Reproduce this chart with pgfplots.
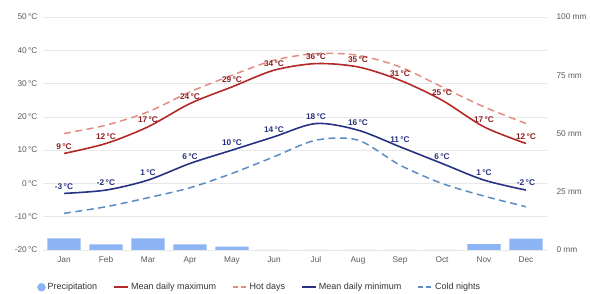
\documentclass[border=0pt]{standalone}
\usepackage{pgfplots}
\pgfplotsset{compat=1.18}
\usepackage{fontspec}
\setmainfont{Liberation Sans}
\definecolor{maxred}{RGB}{180,40,40}
\definecolor{hotred}{RGB}{226,140,130}
\definecolor{minblue}{RGB}{40,50,130}
\definecolor{coldblue}{RGB}{90,140,195}
\definecolor{precip}{RGB}{140,180,245}
\definecolor{gridgray}{RGB}{232,232,232}
\definecolor{ticklab}{RGB}{90,90,90}
\pgfplotsset{/pgf/number format/assume math mode=true}
\begin{document}
\begin{tikzpicture}
\useasboundingbox (0,0) rectangle (590pt,294pt);
\begin{axis}[
  at={(43pt,44pt)}, anchor=south west,
  scale only axis, width=504pt, height=233pt,
  xmin=-0.5, xmax=11.5, ymin=-20, ymax=50,
  xtick={0,...,11},
  xticklabels={Jan,Feb,Mar,Apr,May,Jun,Jul,Aug,Sep,Oct,Nov,Dec},
  ytick={-20,-10,...,50},
  yticklabel={\pgfmathprintnumber{\tick}\,°C},
  ymajorgrids, grid style={gridgray, line width=0.6pt},
  axis line style={draw=none},
  major tick length=0pt,
  tick label style={font=\fontsize{8.3}{10}\selectfont, color=ticklab},
  xticklabel style={yshift=-3pt},
  yticklabel style={xshift=-2pt},
  legend columns=5,
  legend style={at={(0.43,-0.16)}, anchor=center, draw=none, fill=none,
    font=\fontsize{9}{11}\selectfont, text=black!80,
    /tikz/every even column/.append style={column sep=14pt}},
  legend image code/.code={\draw[#1] (0pt,0pt) -- (14pt,0pt);},
  legend cell align=left,
]
\addlegendimage{only marks, mark=*, mark size=4pt, color=precip,
  legend image code/.code={\fill[precip] (7pt,0pt) circle (4pt);}}
\addlegendentry{Precipitation}
\addplot[smooth, color=hotred, line width=1.5pt, dash pattern=on 7pt off 4.5pt, forget plot] coordinates {
(0,15) (1,17.5) (2,21.5) (3,27.5) (4,32.5) (5,37) (6,39) (7,38.5) (8,35) (9,29) (10,23) (11,18)};
\addplot[smooth, color=coldblue, line width=1.5pt, dash pattern=on 7pt off 4.5pt, forget plot] coordinates {
(0,-9) (1,-7) (2,-4.3) (3,-1.3) (4,3) (5,8) (6,13) (7,13) (8,5.5) (9,0) (10,-3.8) (11,-7)};
\addplot[smooth, color=maxred, line width=1.6pt, forget plot,
  nodes near coords={\pgfmathprintnumber{\pgfplotspointmeta}\,°C},
  nodes near coords style={font=\bfseries\fontsize{8.3}{10}\selectfont, color=maxred!80!black, anchor=south, yshift=0pt}]
coordinates {
(0,9) (1,12) (2,17) (3,24) (4,29) (5,34) (6,36) (7,35) (8,31) (9,25) (10,17) (11,12)};
\addplot[smooth, color=minblue, line width=1.6pt, forget plot,
  nodes near coords={\pgfmathprintnumber{\pgfplotspointmeta}\,°C},
  nodes near coords style={font=\bfseries\fontsize{8.3}{10}\selectfont, color=minblue, anchor=south, yshift=0pt}]
coordinates {
(0,-3) (1,-2) (2,1) (3,6) (4,10) (5,14) (6,18) (7,16) (8,11) (9,6) (10,1) (11,-2)};
\addlegendimage{color=maxred, line width=1.8pt}
\addlegendentry{Mean daily maximum}
\addlegendimage{color=hotred, line width=1.6pt, dash pattern=on 5pt off 3pt}
\addlegendentry{Hot days}
\addlegendimage{color=minblue, line width=1.8pt}
\addlegendentry{Mean daily minimum}
\addlegendimage{color=coldblue, line width=1.6pt, dash pattern=on 5pt off 3pt}
\addlegendentry{Cold nights}
\end{axis}
\begin{axis}[
  at={(43pt,44pt)}, anchor=south west,
  scale only axis, width=504pt, height=233pt,
  xmin=-0.5, xmax=11.5, ymin=0, ymax=100,
  axis x line=none, axis y line*=right,
  axis line style={draw=none},
  major tick length=0pt,
  ytick={0,25,50,75,100},
  yticklabel={\pgfmathprintnumber{\tick} mm},
  tick label style={font=\fontsize{8.3}{10}\selectfont, color=ticklab},
  yticklabel style={xshift=6pt},
]
\addplot[ybar, bar width=0.79, fill=precip, draw=none] coordinates {
(0,5) (1,2.4) (2,5) (3,2.4) (4,1.4) (5,0) (6,0) (7,0) (8,0) (9,0) (10,2.5) (11,4.9)};
\end{axis}
\end{tikzpicture}
\end{document}
